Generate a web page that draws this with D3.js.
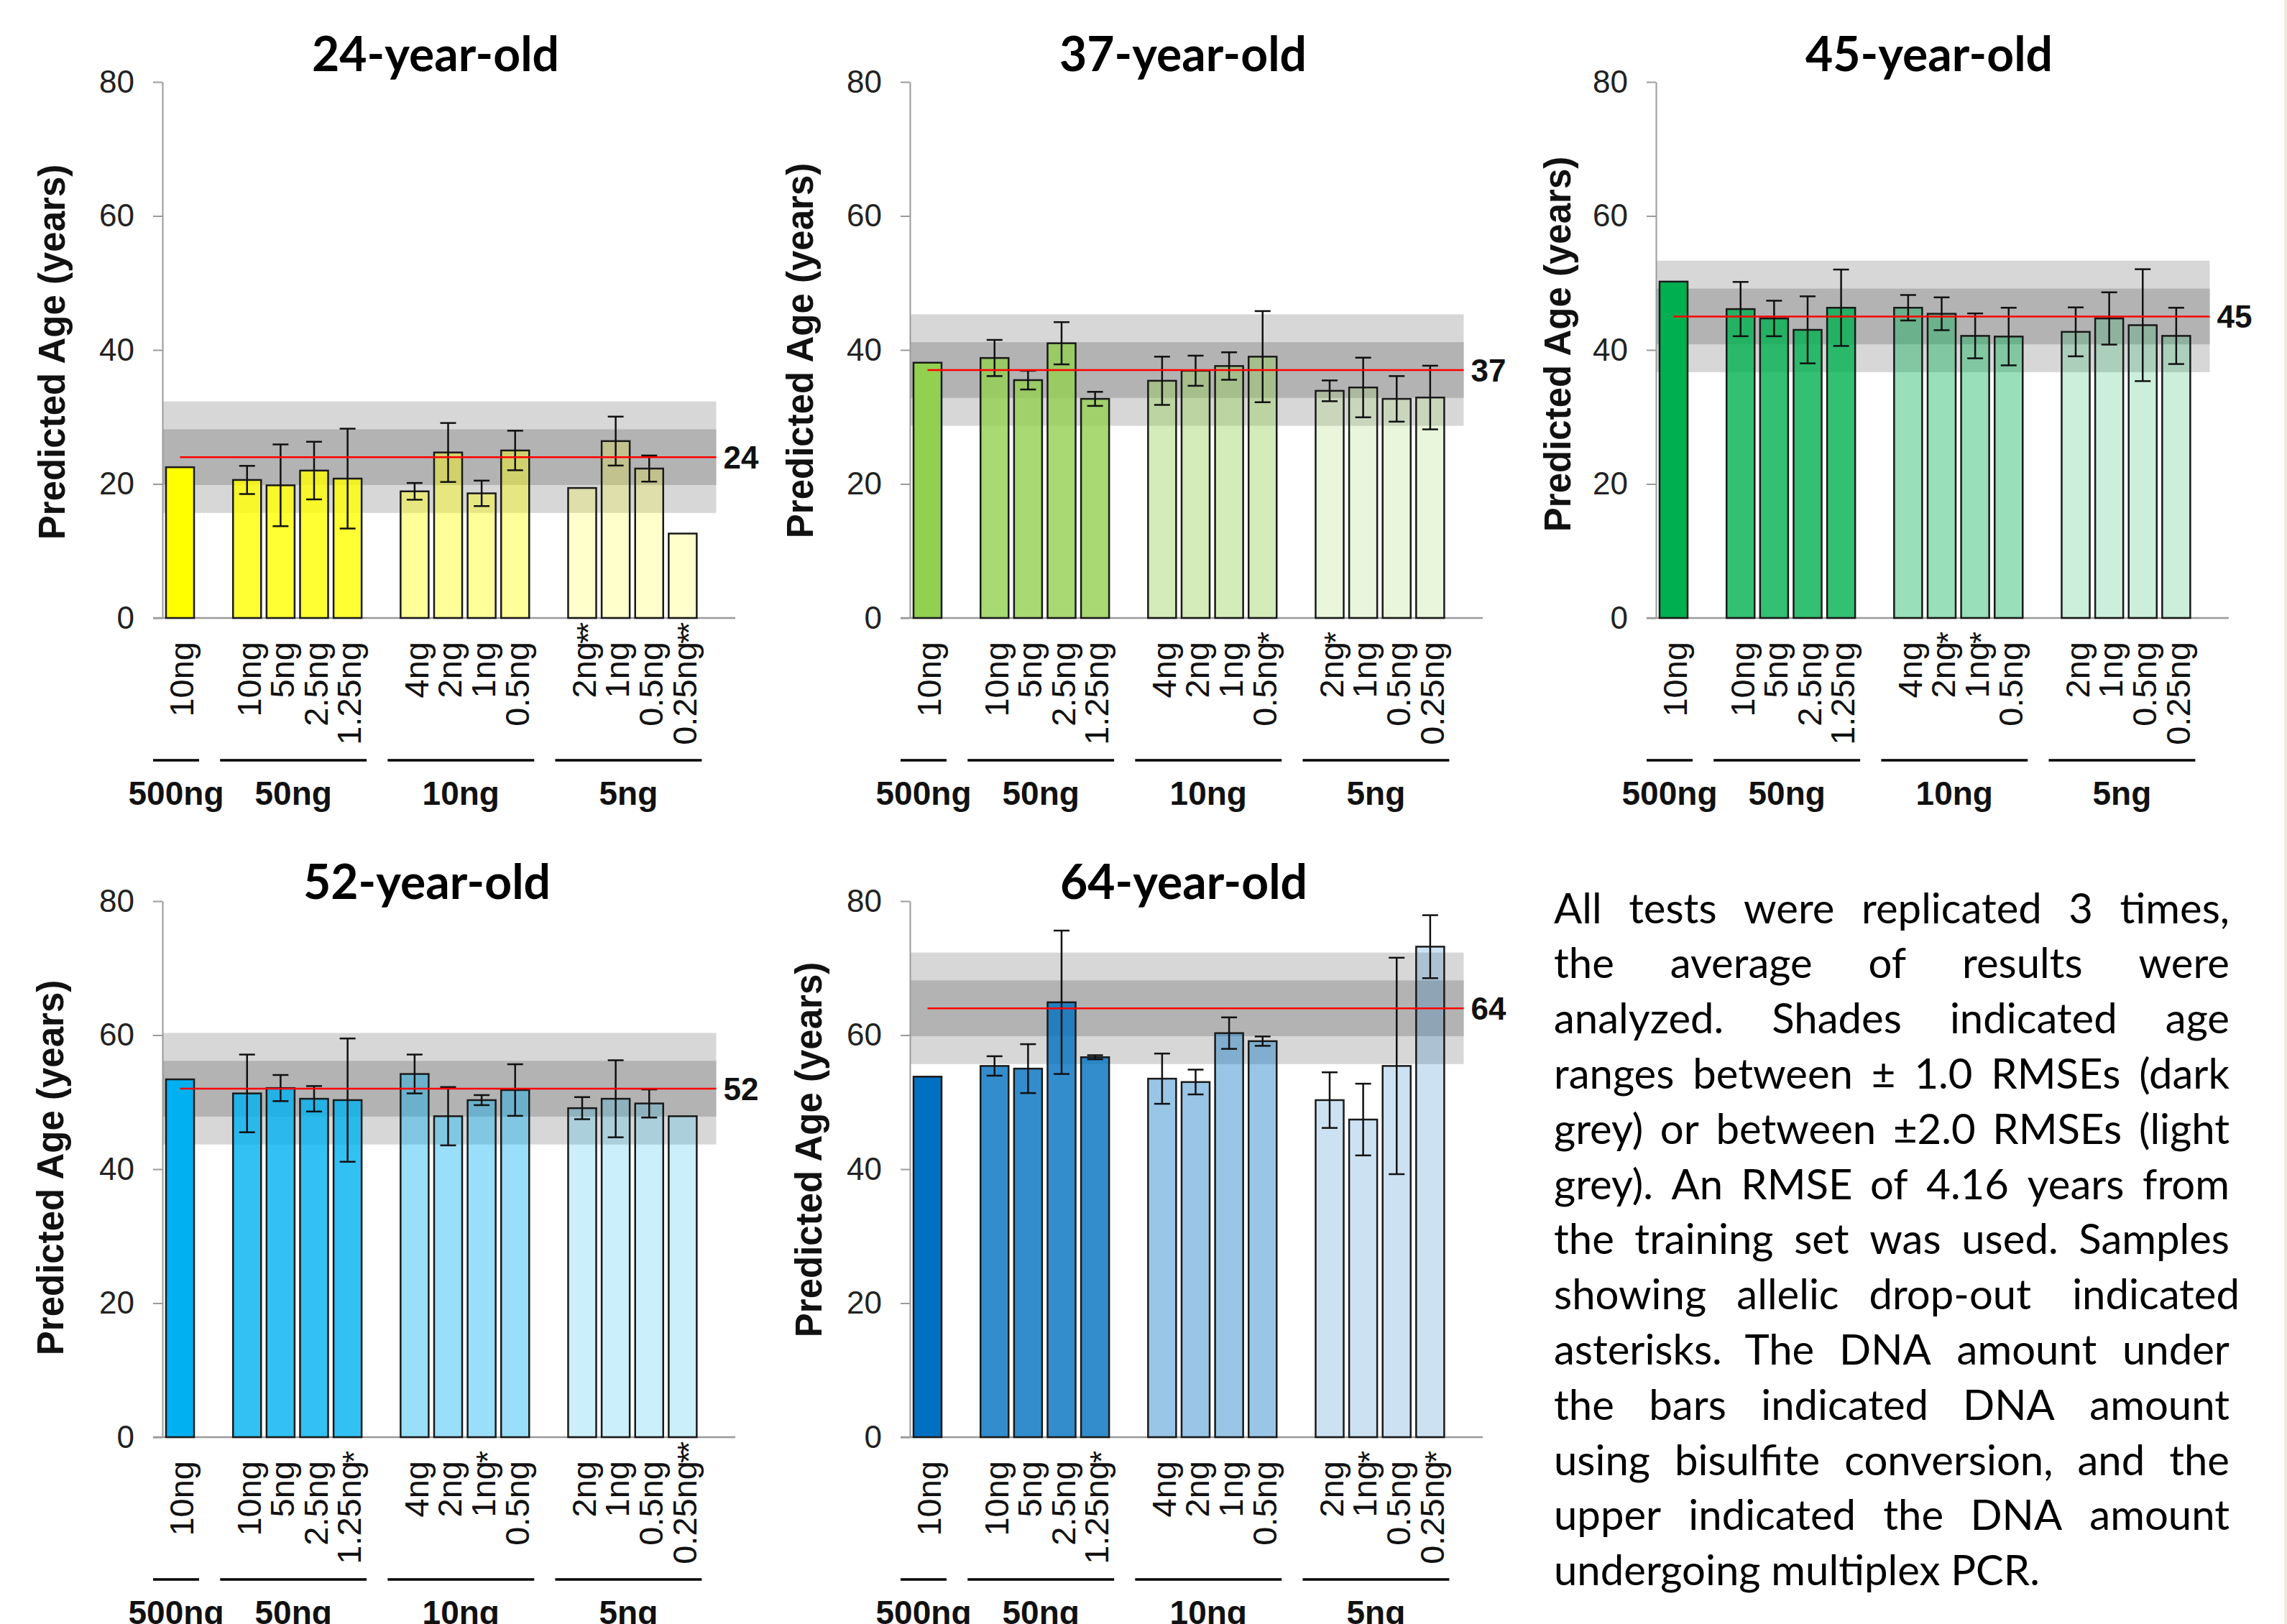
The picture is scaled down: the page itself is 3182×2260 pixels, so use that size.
<!DOCTYPE html>
<html>
<head>
<meta charset="utf-8">
<script src="https://cdn.jsdelivr.net/npm/d3@7"></script>
<style>
  html, body { margin: 0; padding: 0; background: #fff; }
  svg { display: block; }
</style>
</head>
<body>
<div id="chart"></div>
<script>
// ---- data ----
var ages = [24, 37, 45, 52, 64];
var rmse = 4.16;

var sampleLabels = ["10ng", "10ng", "5ng", "2.5ng", "1.25ng", "4ng", "2ng", "1ng", "0.5ng", "2ng", "1ng", "0.5ng", "0.25ng"];
var sampleSlots = [0, 2, 3, 4, 5, 7, 8, 9, 10, 12, 13, 14, 15];
var sampleGroup = [0, 1, 1, 1, 1, 2, 2, 2, 2, 3, 3, 3, 3];
var groupLabels = ["500ng", "50ng", "10ng", "5ng"];

// mean predicted age for each sample
var mean24 = [22.5, 20.6, 19.8, 22.0, 20.8, 18.9, 24.7, 18.6, 25.0, 19.4, 26.4, 22.3, 12.6];
var mean37 = [38.1, 38.8, 35.5, 41.0, 32.7, 35.4, 36.9, 37.6, 39.0, 33.9, 34.4, 32.7, 32.9];
var mean45 = [50.2, 46.1, 44.7, 43.0, 46.3, 46.3, 45.4, 42.1, 42.0, 42.7, 44.7, 43.7, 42.1];
var mean52 = [53.4, 51.3, 52.1, 50.5, 50.3, 54.2, 47.9, 50.3, 51.8, 49.1, 50.5, 49.8, 47.9];
var mean64 = [53.8, 55.4, 55.0, 64.9, 56.7, 53.5, 53.0, 60.3, 59.1, 50.3, 47.4, 55.4, 73.2];

// standard deviation (error bar half length), null = no error bar
var sd24 = [null, 2.1, 6.1, 4.3, 7.45, 1.25, 4.4, 1.9, 2.95, null, 3.65, 1.95, null];
var sd37 = [null, 2.7, 1.4, 3.15, 1.05, 3.6, 2.25, 2.05, 6.8, 1.55, 4.45, 3.4, 4.75];
var sd45 = [null, 4.05, 2.65, 5.0, 5.7, 1.9, 2.45, 3.35, 4.3, 3.65, 3.9, 8.35, 4.2];
var sd52 = [null, 5.8, 1.95, 1.9, 9.2, 2.9, 4.35, 0.75, 3.85, 1.65, 5.75, 2.1, null];
var sd64 = [null, 1.45, 3.65, 10.7, 0.3, 3.75, 1.85, 2.35, 0.7, 4.15, 5.35, 16.15, 4.7];

// allelic drop-out marks
var stars24 = ["", "", "", "", "", "", "", "", "", "**", "", "", "**"];
var stars37 = ["", "", "", "", "", "", "", "", "*", "*", "", "", ""];
var stars45 = ["", "", "", "", "", "", "*", "*", "", "", "", "", ""];
var stars52 = ["", "", "", "", "*", "", "", "*", "", "", "", "", "**"];
var stars64 = ["", "", "", "", "*", "", "", "", "", "", "*", "", "*"];

var yTicks = [0, 20, 40, 60, 80];

var captionLines = [
    "All tests were replicated 3 times,",
    "the average of results were",
    "analyzed. Shades indicated age",
    "ranges between \u00b1 1.0 RMSEs (dark",
    "grey) or between \u00b12.0 RMSEs (light",
    "grey). An RMSE of 4.16 years from",
    "the training set was used. Samples",
    "showing allelic drop-out indicated",
    "asterisks. The DNA amount under",
    "the bars indicated DNA amount",
    "using bisulfite conversion, and the",
    "upper indicated the DNA amount",
    "undergoing multiplex PCR."
];

// ---- styling / layout ----
var baseColors = ["#FFFF00", "#92D050", "#00B050", "#00B0F0", "#0070C0"];
var groupAlpha = [1, 0.8, 0.4, 0.2];
var colX = [226, 1266, 2304];
var rowY0 = [860, 2000];
var titleDy = [-15, -3];
var titleDx = [380, 380, 380, 368, 381];
var yLabDx = [-154, -153, -137, -156, -141];
var yLabDy = [370, 372, 381, 375, 400];
var plotH = 746;
var plotW = 795;

var means = [mean24, mean37, mean45, mean52, mean64];
var sds = [sd24, sd37, sd45, sd52, sd64];
var stars = [stars24, stars37, stars45, stars52, stars64];

var svg = d3.select("#chart").append("svg")
    .attr("width", 3182)
    .attr("height", 2260);

svg.append("rect").attr("width", 3182).attr("height", 2260).attr("fill", "#fff");
svg.append("rect").attr("x", 3178).attr("width", 4).attr("height", 2260).attr("fill", "#EEEBE0");

var axisFont = "'Liberation Sans', Arial, sans-serif";
var titleFont = "Lato, 'Open Sans', sans-serif";

ages.forEach(function(age, p) {
    var col = p % 3, row = Math.floor(p / 3);
    var g = svg.append("g")
        .attr("transform", "translate(" + colX[col] + "," + (rowY0[row] - plotH) + ")");

    var y = d3.scaleLinear().domain([0, 80]).range([plotH, 0]);
    var x = d3.scaleBand()
        .domain(d3.range(17))
        .range([0, plotW])
        .paddingInner(0.163)
        .paddingOuter(0.107);
    var bw = x.bandwidth();
    var endX = x(16) + bw / 2;

    var data = sampleLabels.map(function(lab, i) {
        return {label: lab, slot: sampleSlots[i], group: sampleGroup[i],
                v: means[p][i], sd: sds[p][i], star: stars[p][i]};
    });

    // shaded RMSE ranges
    g.append("rect")
        .attr("x", 0).attr("width", endX)
        .attr("y", y(age + 2 * rmse))
        .attr("height", y(age - 2 * rmse) - y(age + 2 * rmse))
        .attr("fill", "#D7D7D7");
    g.append("rect")
        .attr("x", 0).attr("width", endX)
        .attr("y", y(age + rmse))
        .attr("height", y(age - rmse) - y(age + rmse))
        .attr("fill", "#B3B3B3");

    // axes
    var yAxis = g.append("g")
        .call(d3.axisLeft(y).tickValues(yTicks).tickSize(13).tickPadding(26).tickSizeOuter(0));
    yAxis.select(".domain").attr("stroke", "#9a9a9a").attr("stroke-width", 2);
    yAxis.selectAll(".tick line").attr("stroke", "#9a9a9a").attr("stroke-width", 2);
    yAxis.selectAll(".tick text")
        .attr("font-family", axisFont).attr("font-size", 44).attr("fill", "#222");

    g.append("line")
        .attr("x1", -13).attr("x2", plotW + 2)
        .attr("y1", plotH).attr("y2", plotH)
        .attr("stroke", "#9a9a9a").attr("stroke-width", 2.5);

    // bars
    g.selectAll("rect.bar")
        .data(data)
        .enter().append("rect")
        .attr("class", "bar")
        .attr("x", function(d) { return x(d.slot); })
        .attr("width", bw)
        .attr("y", function(d) { return y(d.v); })
        .attr("height", function(d) { return plotH - y(d.v); })
        .attr("fill", baseColors[p])
        .attr("fill-opacity", function(d) { return groupAlpha[d.group]; })
        .attr("stroke", "#1a1a1a")
        .attr("stroke-width", 2.5);

    // error bars
    var eb = g.selectAll("g.err")
        .data(data.filter(function(d) { return d.sd != null; }))
        .enter().append("g")
        .attr("class", "err")
        .attr("stroke", "#111")
        .attr("stroke-width", 2.5);
    eb.append("line")
        .attr("x1", function(d) { return x(d.slot) + bw / 2; })
        .attr("x2", function(d) { return x(d.slot) + bw / 2; })
        .attr("y1", function(d) { return y(d.v + d.sd); })
        .attr("y2", function(d) { return y(d.v - d.sd); });
    [1, -1].forEach(function(s) {
        eb.append("line")
            .attr("x1", function(d) { return x(d.slot) + bw / 2 - 11; })
            .attr("x2", function(d) { return x(d.slot) + bw / 2 + 11; })
            .attr("y1", function(d) { return y(d.v + s * d.sd); })
            .attr("y2", function(d) { return y(d.v + s * d.sd); });
    });

    // actual age line
    g.append("line")
        .attr("x1", x(0) + bw / 2).attr("x2", endX)
        .attr("y1", y(age)).attr("y2", y(age))
        .attr("stroke", "#FF0000").attr("stroke-width", 2.5);
    g.append("text")
        .attr("x", endX + 10).attr("y", y(age)).attr("dy", "0.36em")
        .attr("font-family", axisFont).attr("font-weight", "bold")
        .attr("font-size", 44).attr("fill", "#111")
        .text(age);

    // x tick labels (rotated)
    var xl = g.selectAll("g.xlab")
        .data(data)
        .enter().append("g")
        .attr("class", "xlab")
        .attr("transform", function(d) {
            return "translate(" + (x(d.slot) + bw / 2) + "," + (plotH + 33) + ") rotate(-90)";
        })
        .attr("font-family", axisFont)
        .attr("fill", "#111");
    xl.append("text")
        .attr("text-anchor", "end")
        .attr("dy", "0.4em")
        .attr("font-size", 47)
        .text(function(d) { return d.label; });
    xl.append("text")
        .attr("text-anchor", "start")
        .attr("dy", "0.55em")
        .attr("dx", -3)
        .attr("font-size", 44)
        .attr("letter-spacing", -4)
        .text(function(d) { return d.star; });

    // DNA amount groups
    groupLabels.forEach(function(gl, gi) {
        var members = data.filter(function(d) { return d.group === gi; });
        var x1 = x(members[0].slot) - 18;
        var x2 = x(members[members.length - 1].slot) + bw + 7;
        g.append("line")
            .attr("x1", x1).attr("x2", x2)
            .attr("y1", plotH + 198).attr("y2", plotH + 198)
            .attr("stroke", "#000").attr("stroke-width", 3.5);
        g.append("text")
            .attr("x", (x1 + x2) / 2).attr("y", plotH + 260)
            .attr("text-anchor", "middle")
            .attr("font-family", axisFont).attr("font-weight", "bold")
            .attr("font-size", 46).attr("fill", "#111")
            .text(gl);
    });

    // title and y label
    g.append("text")
        .attr("x", titleDx[p]).attr("y", titleDy[row])
        .attr("text-anchor", "middle")
        .attr("font-family", titleFont).attr("font-weight", "bold")
        .attr("font-size", 66).attr("fill", "#000")
        .text(age + "-year-old");
    g.append("text")
        .attr("transform", "translate(" + yLabDx[p] + "," + (plotH - yLabDy[p]) + ") rotate(-90)")
        .attr("text-anchor", "middle")
        .attr("dy", "0.36em")
        .attr("font-family", axisFont).attr("font-weight", "bold")
        .attr("font-size", 51).attr("fill", "#111")
        .text("Predicted Age (years)");
});

// caption, justified
var capX = 2162, capW = 940, capY = 1284.5, capStep = 76.8;
var cap = svg.append("g").attr("font-family", titleFont).attr("fill", "#000");
var probe = cap.append("text").attr("font-size", 60).text(captionLines[captionLines.length - 1]);
var capSize = 60 * 676 / probe.node().getComputedTextLength();
probe.remove();
cap.attr("font-size", capSize);

captionLines.forEach(function(line, li) {
    var t = cap.append("text").attr("y", capY + li * capStep);
    var words = line.split(" ");
    if (li === captionLines.length - 1) {
        t.attr("x", capX).text(line);
        return;
    }
    var spans = words.map(function(w) { return t.append("tspan").text(w); });
    var widths = spans.map(function(s) { return s.node().getComputedTextLength(); });
    var gap = (capW - d3.sum(widths)) / (words.length - 1);
    var cx = capX;
    spans.forEach(function(s, i) {
        s.attr("x", cx);
        cx += widths[i] + gap;
    });
});
</script>
</body>
</html>
